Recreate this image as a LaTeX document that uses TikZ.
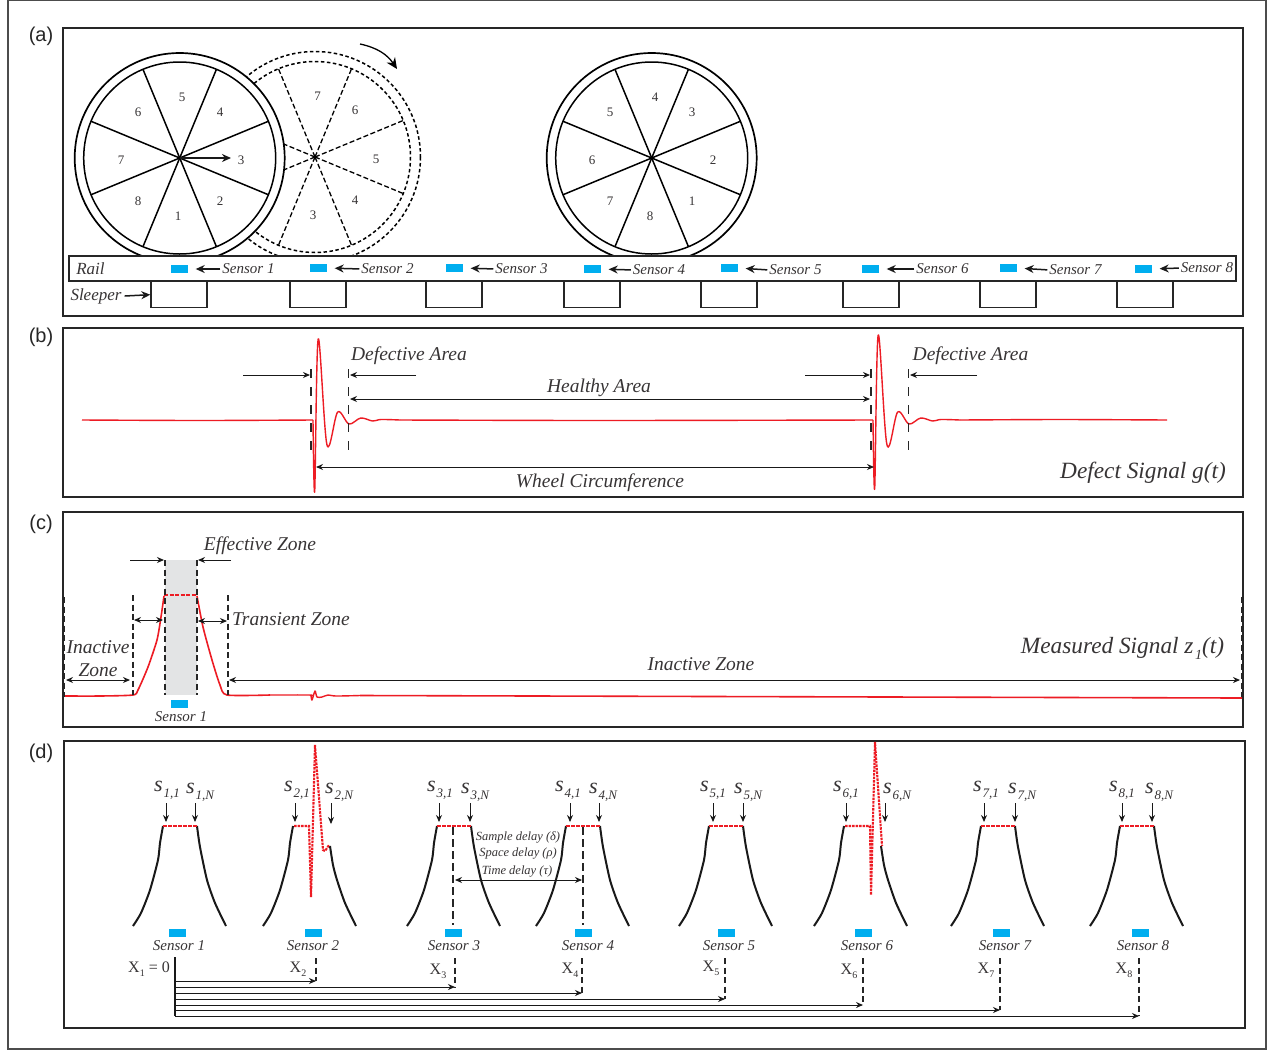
\documentclass[tikz,border=0pt]{standalone}
\usepackage{fontspec}
\setmainfont{Liberation Serif}
\setsansfont{Liberation Sans}
\definecolor{sensorblue}{RGB}{0,174,239}
\definecolor{sigred}{RGB}{237,28,36}
\definecolor{inkgrey}{RGB}{55,52,53}
\definecolor{zonegrey}{RGB}{227,228,229}
\newcommand{\fs}[1]{\fontsize{#1}{#1}\selectfont}
\newcommand{\slab}[1]{{\fs{22}s}\kern1pt\raisebox{-6pt}{\fs{13}#1}}
\newcommand{\xlab}[1]{X\raisebox{-4pt}{\fs{10}#1}}
\usetikzlibrary{arrows.meta}
\begin{document}
\begin{tikzpicture}[x=1pt,y=-1pt,>=stealth,
    panel/.style={draw=black!85,line width=1.5pt},
    sensor/.style={fill=sensorblue,minimum width=17pt,minimum height=8pt,inner sep=0pt},
    sleeper/.style={draw=black!85,line width=1.4pt,minimum width=56pt,minimum height=26pt,inner sep=0pt,anchor=north},
    lbl/.style={inner sep=0pt,text=inkgrey,font=\itshape\fs{15}},
    midlbl/.style={inner sep=0pt,text=inkgrey,font=\itshape\fs{17}},
    biglbl/.style={inner sep=0pt,text=inkgrey,font=\itshape\fs{19.5}},
    huge lbl/.style={inner sep=0pt,text=inkgrey,font=\itshape\fs{23.3}},
    num/.style={inner sep=0pt,text=inkgrey,font=\fs{13}},
    tag/.style={inner sep=0pt,text=black!85,font=\sffamily\fs{20}},
    sl/.style={inner sep=0pt,text=inkgrey,font=\itshape},
    xl/.style={inner sep=0pt,text=inkgrey,font=\fs{16}},
    arr/.style={-{Stealth[length=9pt,width=8pt]},line width=1.5pt,black!90},
    thin arr/.style={-{Stealth[length=7pt,width=6pt]},line width=0.95pt,black!90},
    dbl/.style={{Stealth[length=7pt,width=6pt]}-{Stealth[length=7pt,width=6pt]},line width=0.95pt,black!90},
    guide/.style={dash pattern=on 6pt off 3.5pt,line width=1.5pt,black!85},
    sig/.style={sigred,line width=1.4pt,line join=round},
    hump/.style={black!90,line width=2pt},
    spike/.style={sigred,line width=2.1pt,dash pattern=on 2.5pt off 1pt}]
\useasboundingbox (0,0) rectangle (1269,1050);
\fill[white] (0,0) rectangle (1269,1050);
\draw[black!70,line width=1.5pt] (8,0) rectangle (1266,1049);

% panels
\draw[panel] (63,28) rectangle (1243,316);
\draw[panel] (63,328) rectangle (1243,497);
\draw[panel] (63,512) rectangle (1243,727);
\draw[panel] (64,741) rectangle (1245,1028);
\node[tag] (taga) at (41,36) {(a)};
\node[tag] (tagb) at (41,337) {(b)};
\node[tag] (tagc) at (41,524) {(c)};
\node[tag] (tagd) at (41,753) {(d)};

% panel a, dashed wheel first, the solid one covers it
\coordinate (w2) at (315,157);
\draw[dash pattern=on 3.5pt off 2.5pt,line width=1.5pt] (w2) circle (105.5);
\draw[dash pattern=on 3.5pt off 2.5pt,line width=1.5pt] (w2) circle (95.5);
\foreach \a in {22.5,67.5,...,337.5}
    \draw[dash pattern=on 5pt off 2.5pt,line width=1.3pt] (w2) -- ++(-\a:95.5);
\node[num] (c7) at (317.5,96) {7};
\node[num] (c6) at (355,110) {6};
\node[num] (c5) at (376,159) {5};
\node[num] (c4) at (355,200) {4};
\node[num] (c3) at (313,215) {3};
\coordinate (turn1) at (360,44);
\coordinate (turn2) at (397,69);
\draw[-{Stealth[length=11pt,width=10pt]},line width=1.3pt] (turn1) to[bend left=22] (turn2);

\coordinate (w1) at (179.7,158);
\coordinate (w3) at (651.7,158);
\foreach \c in {w1,w3} {
    \draw[fill=white,line width=1.7pt] (\c) circle (105);
    \draw[line width=1.5pt] (\c) circle (96);
    \foreach \a in {22.5,67.5,...,337.5}
        \draw[line width=1.5pt] (\c) -- ++(\a:96);
}
\node[num] (a5) at (182,97) {5};
\node[num] (a4) at (220,112) {4};
\node[num] (a3) at (241,160) {3};
\node[num] (a2) at (220,201) {2};
\node[num] (a1) at (178,216) {1};
\node[num] (a8) at (138,201) {8};
\node[num] (a7) at (121,160) {7};
\node[num] (a6) at (138,112) {6};
\coordinate (a3tip) at (231,158);
\draw[arr] (w1) -- (a3tip);
\node[num] (b4) at (655,97) {4};
\node[num] (b3) at (692,112) {3};
\node[num] (b2) at (713,160) {2};
\node[num] (b1) at (692,201) {1};
\node[num] (b8) at (650,216) {8};
\node[num] (b7) at (610,201) {7};
\node[num] (b6) at (592,160) {6};
\node[num] (b5) at (610,112) {5};

% rail and sleepers
\node[draw=black!85,fill=white,line width=1.5pt,minimum width=1167pt,minimum height=25pt,inner sep=0pt] (rail) at (652.5,268.5) {};
\node[midlbl] (raillab) at (90.5,269) {Rail};
\node[sleeper] (sl1) at (179,281) {};
\node[sleeper] (sl2) at (318,281) {};
\node[sleeper] (sl3) at (454,281) {};
\node[sleeper] (sl4) at (592,281) {};
\node[sleeper] (sl5) at (729,281) {};
\node[sleeper] (sl6) at (871,281) {};
\node[sleeper] (sl7) at (1008,281) {};
\node[sleeper] (sl8) at (1145,281) {};
\node[midlbl] (sleeplab) at (96,296) {Sleeper};
\draw[arr] (sleeplab.east) ++(3,0) -- (sl1.west);

\node[sensor] (s1) at (179,269) {};
\node[sensor] (s2) at (318,268) {};
\node[sensor] (s3) at (454,268) {};
\node[sensor] (s4) at (592,269) {};
\node[sensor] (s5) at (729,268) {};
\node[sensor] (s6) at (870,269) {};
\node[sensor] (s7) at (1008,268) {};
\node[sensor] (s8) at (1143,269) {};
\node[lbl] (ls1) at (248.5,269) {Sensor 1};
\node[lbl] (ls2) at (387.5,269) {Sensor 2};
\node[lbl] (ls3) at (521.5,269) {Sensor 3};
\node[lbl] (ls4) at (659,270) {Sensor 4};
\node[lbl] (ls5) at (795.5,270) {Sensor 5};
\node[lbl] (ls6) at (942.5,269) {Sensor 6};
\node[lbl] (ls7) at (1075.5,270) {Sensor 7};
\node[lbl] (ls8) at (1207,268) {Sensor 8};
\foreach \i in {1,...,8}
    \draw[arr,shorten >=8pt,shorten <=2pt] (ls\i.west) -- (s\i.east);

% panel b
\draw[sig] plot[smooth,tension=0.45] coordinates {(82,420) (200,420.5) (313,420)};
\foreach \dx/\top/\bot in {0/339/491,560/335/488}
    \draw[sig,xshift=\dx] plot[smooth,tension=0.55] coordinates {(313,420) (314.7,\bot) (318.2,\top) (327,445) (337.7,412) (349,424) (360.7,418) (372.7,421) (381,419.5) (400,420)};
\draw[sig] plot[smooth,tension=0.45] coordinates {(400,420) (600,420.5) (873,420)};
\draw[sig] plot[smooth,tension=0.45] coordinates {(960,420) (1060,419.5) (1167,420)};
\coordinate (ga) at (311,369); \coordinate (gb) at (311,453);
\coordinate (gc) at (348.5,369); \coordinate (gd) at (348.5,453);
\coordinate (ge) at (871,369); \coordinate (gf) at (871,453);
\coordinate (gg) at (908.5,369); \coordinate (gh) at (908.5,453);
\draw[guide,dash pattern=on 9pt off 9pt] (ga) -- (gb) (gc) -- (gd) (ge) -- (gf) (gg) -- (gh);
\node[biglbl] (def1) at (409,356) {Defective Area};
\node[biglbl] (def2) at (970.5,356) {Defective Area};
\node[biglbl] (healthy) at (599,388) {Healthy Area};
\node[biglbl] (circ) at (600,483) {Wheel Circumference};
\node[huge lbl] (defect) at (1143,473) {Defect Signal g(t)};
\coordinate (d1a) at (243,375); \coordinate (d1b) at (310,375);
\coordinate (d2a) at (416,375); \coordinate (d2b) at (350,375);
\coordinate (d3a) at (805,375); \coordinate (d3b) at (870,375);
\coordinate (d4a) at (977,375); \coordinate (d4b) at (910,375);
\coordinate (h1) at (350,399); \coordinate (h2) at (870,399);
\coordinate (c1) at (316,467); \coordinate (c2) at (874,467);
\draw[thin arr] (d1a) -- (d1b);
\draw[thin arr] (d2a) -- (d2b);
\draw[thin arr] (d3a) -- (d3b);
\draw[thin arr] (d4a) -- (d4b);
\draw[dbl] (h1) -- (h2);
\draw[dbl] (c1) -- (c2);

% panel c
\fill[zonegrey] (165,560) rectangle (197,695);
\draw[sig,line width=1.6pt] plot[smooth,tension=0.4] coordinates {(64,696) (100,696) (133,695) (138,690) (148,667) (157,640) (161,617) (164,596)};
\draw[sig,dash pattern=on 4pt off 1.5pt] (164,595) -- (197,595);
\draw[sig,line width=1.6pt] plot[smooth,tension=0.4] coordinates {(197,596) (203,627) (212,660) (220,685) (227,695) (270,695)};
\draw[sig] plot[smooth,tension=0.5] coordinates {(270,695) (309,695) (311,696) (312,700) (315,691) (317,697) (322,697) (328,695) (336,696) (360,695.5)};
\draw[sig,line width=1.6pt] (360,695.5) -- (1242,698);
\coordinate (z1a) at (64,597); \coordinate (z1b) at (64,697);
\coordinate (z2a) at (133,595); \coordinate (z2b) at (133,695);
\coordinate (z3a) at (165,560); \coordinate (z3b) at (165,695);
\coordinate (z4a) at (197,560); \coordinate (z4b) at (197,695);
\coordinate (z5a) at (228,595); \coordinate (z5b) at (228,695);
\coordinate (z6a) at (1242,597); \coordinate (z6b) at (1242,697);
\foreach \i in {1,...,6}
    \draw[guide] (z\i a) -- (z\i b);
\node[biglbl] (eff) at (260,546) {Effective Zone};
\node[biglbl] (trans) at (291,619) {Transient Zone};
\node[biglbl] (ina1) at (98,647) {Inactive};
\node[biglbl] (ina2) at (98,670) {Zone};
\node[biglbl] (ina3) at (701,664) {Inactive Zone};
\node[huge lbl] (meas) at (1122.5,648) {Measured Signal z\kern1.5pt\raisebox{-6pt}{\fs{14}1}(t)};
\node[sensor] (sc) at (179,704) {};
\node[lbl] (lsc) at (181,717) {Sensor 1};
\coordinate (e1a) at (130,560); \coordinate (e1b) at (164,560);
\coordinate (e2a) at (231,560); \coordinate (e2b) at (198,560);
\coordinate (t1a) at (134,620); \coordinate (t1b) at (163,620);
\coordinate (t2a) at (198,621); \coordinate (t2b) at (227,621);
\coordinate (i1a) at (66,680); \coordinate (i1b) at (130,680);
\coordinate (i2a) at (229,680); \coordinate (i2b) at (1240,680);
\draw[thin arr] (e1a) -- (e1b);
\draw[thin arr] (e2a) -- (e2b);
\draw[dbl] (t1a) -- (t1b);
\draw[dbl] (t2a) -- (t2b);
\draw[dbl] (i1a) -- (i1b);
\draw[dbl] (i2a) -- (i2b);

% panel d, humps
\foreach \x in {133,263,407,536,679,814,951,1090}
    \draw[hump,xshift=\x] plot[smooth,tension=0.4] coordinates {(0,926) (8,913) (17,890) (25,860) (27,843) (30,826)};
\foreach \x in {133,407,536,679,951,1090} {
    \draw[hump,xshift=\x] plot[smooth,tension=0.4] coordinates {(64,826) (67,847) (74,880) (82,903) (93,926)};
    \draw[sig,line width=1.6pt,dash pattern=on 3.5pt off 1.5pt,xshift=\x] (30,826) -- (64,826);
}
\foreach \x in {263,814}
    \draw[hump,xshift=\x] plot[smooth,tension=0.4] coordinates {(67,846) (70,865) (74,880) (82,903) (93,926)};
\draw[spike] (294,826) -- (309,826) -- (311,897) -- (315,745) -- (323,850) -- (325,851) -- (329,845);
\draw[spike] (845,826) -- (870,826) -- (871,895) -- (875,742) -- (882,846);

\node[sl] (p1) at (167,790) {\slab{1,1}};
\node[sl] (q1) at (200,792) {\slab{1,N}};
\node[sl] (p2) at (297,790) {\slab{2,1}};
\node[sl] (q2) at (339,792) {\slab{2,N}};
\node[sl] (p3) at (440,790) {\slab{3,1}};
\node[sl] (q3) at (475,792) {\slab{3,N}};
\node[sl] (p4) at (568,790) {\slab{4,1}};
\node[sl] (q4) at (603,792) {\slab{4,N}};
\node[sl] (p5) at (713,790) {\slab{5,1}};
\node[sl] (q5) at (748,792) {\slab{5,N}};
\node[sl] (p6) at (846,790) {\slab{6,1}};
\node[sl] (q6) at (897,792) {\slab{6,N}};
\node[sl] (p7) at (986,790) {\slab{7,1}};
\node[sl] (q7) at (1022,792) {\slab{7,N}};
\node[sl] (p8) at (1122,790) {\slab{8,1}};
\node[sl] (q8) at (1159,792) {\slab{8,N}};
\foreach \n/\x/\e in {p1/166/822,q1/195/822,p2/295/822,q2/331/824,p3/439/822,q3/470/822,p4/570/822,q4/599/822,p5/713/822,q5/743/822,p6/846/822,q6/885/822,p7/984/822,q7/1015/822,p8/1122/822,q8/1152/822} {
    \coordinate (\n a) at (\x,803);
    \coordinate (\n b) at (\x,\e);
    \draw[thin arr] (\n a) -- (\n b);
}

\coordinate (g3a) at (453,827); \coordinate (g3b) at (453,925);
\coordinate (g4a) at (583,827); \coordinate (g4b) at (583,925);
\draw[guide,dash pattern=on 8pt off 4pt] (g3a) -- (g3b);
\draw[guide,dash pattern=on 8pt off 4pt] (g4a) -- (g4b);
\coordinate (del1) at (455,880); \coordinate (del2) at (582,880);
\draw[dbl] (del1) -- (del2);
\node[lbl,font=\itshape\fs{12.5}] (dl1) at (518,837) {Sample delay (δ)};
\node[lbl,font=\itshape\fs{12.5}] (dl2) at (518,853) {Space delay (ρ)};
\node[lbl,font=\itshape\fs{12.5}] (dl3) at (517,871) {Time delay (τ)};

\node[sensor] (t1) at (177,933) {};
\node[sensor] (t2) at (313,933) {};
\node[sensor] (t3) at (453,933) {};
\node[sensor] (t4) at (583,933) {};
\node[sensor] (t5) at (726,933) {};
\node[sensor] (t6) at (863,933) {};
\node[sensor] (t7) at (1001,933) {};
\node[sensor] (t8) at (1140,933) {};
\node[lbl] (lt1) at (179,946) {Sensor 1};
\node[lbl] (lt2) at (313,946) {Sensor 2};
\node[lbl] (lt3) at (454,946) {Sensor 3};
\node[lbl] (lt4) at (588,946) {Sensor 4};
\node[lbl] (lt5) at (729,946) {Sensor 5};
\node[lbl] (lt6) at (867,946) {Sensor 6};
\node[lbl] (lt7) at (1005,946) {Sensor 7};
\node[lbl] (lt8) at (1143,946) {Sensor 8};

% distances from the first sensor
\node[xl] (x1) at (149,969) {\xlab{1} = 0};
\node[xl] (x2) at (298,969) {\xlab{2}};
\node[xl] (x3) at (438,971) {\xlab{3}};
\node[xl] (x4) at (570,970) {\xlab{4}};
\node[xl] (x5) at (711,968) {\xlab{5}};
\node[xl] (x6) at (849,971) {\xlab{6}};
\node[xl] (x7) at (986,970) {\xlab{7}};
\node[xl] (x8) at (1124,970) {\xlab{8}};
\coordinate (o1) at (175,957); \coordinate (o2) at (175,1016);
\draw[line width=1.8pt,black!90] (o1) -- (o2);
\foreach \i/\x/\y in {2/316/981,3/455/987,4/582/993,5/725/999,6/863/1005,7/1000/1010,8/1139/1016} {
    \coordinate (m\i) at (175,\y);
    \coordinate (n\i) at (\x,\y);
    \coordinate (k\i) at (\x,958);
    \draw[thin arr] (m\i) -- (n\i);
    \draw[guide,line width=1.6pt] (k\i) -- (n\i);
}
\end{tikzpicture}
\end{document}
